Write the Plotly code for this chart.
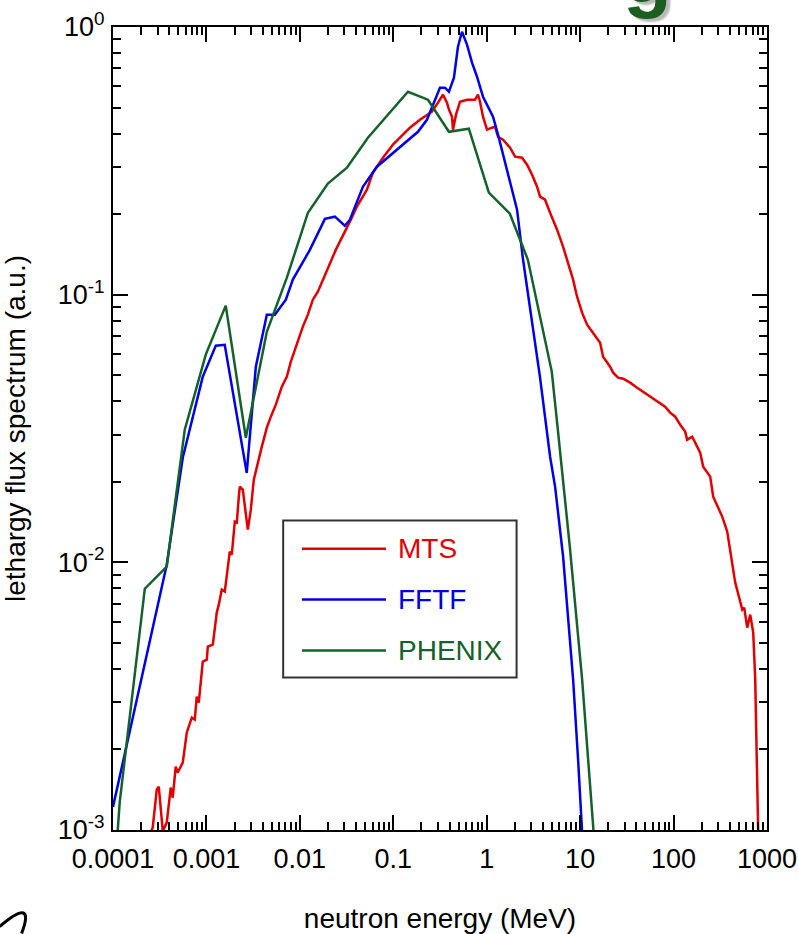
import plotly.graph_objects as go

# ---------------- data ----------------
E_mts = [2.47e-4, 2.66e-4, 2.94e-4, 3.09e-4, 3.41e-4, 3.76e-4, 4.15e-4, 4.36e-4, 4.69e-4, 4.93e-4,
         5.58e-4, 6.16e-4, 6.97e-4, 7.50e-4, 7.88e-4, 8.28e-4, 9.14e-4, 1.009e-3, 1.034e-3, 1.170e-3,
         1.290e-3, 1.356e-3, 1.460e-3, 1.572e-3, 1.778e-3, 1.868e-3, 2.012e-3, 2.114e-3, 2.221e-3, 2.277e-3,
         2.451e-3, 2.773e-3, 2.985e-3, 3.214e-3, 3.916e-3, 4.43e-3, 4.89e-3, 5.53e-3, 6.41e-3, 7.26e-3,
         8.01e-3, 9.75e-3, 0.01077, 0.01218, 0.01378, 0.01558, 0.01763, 0.02429, 0.0343, 0.04078,
         0.05219, 0.06051, 0.07745, 0.0991, 0.1268, 0.1508, 0.1929, 0.2594, 0.3009, 0.3402,
         0.3755, 0.3946, 0.4249, 0.4355, 0.469, 0.5176, 0.6152, 0.7495, 0.8069, 0.8475,
         0.9128, 1.0074, 1.14, 1.227, 1.321, 1.495, 1.777, 2.011, 2.389, 2.702,
         3.058, 3.458, 3.724, 4.212, 4.766, 5.664, 6.566, 7.247, 8.405, 9.275,
         10.49, 11.87, 13.76, 16.36, 17.61, 20.93, 22.54, 25.5, 28.84, 34.28,
         40.74, 47.24, 56.14, 68.4, 81.25, 91.94, 104.0, 117.7, 133.1, 139.8,
         158.2, 178.9, 192.6, 207.5, 246.6, 265.6, 331.6, 375.1, 424.3, 456.9,
         516.9, 543.0, 570.4, 614.1, 661.5, 712.2, 748.2, 805.6]
F_mts = [9.6e-4, 1.02e-3, 1.416e-3, 1.452e-3, 9.9e-4, 1.066e-3, 1.44e-3, 1.32e-3, 1.725e-3, 1.64e-3,
         1.786e-3, 2.31e-3, 2.63e-3, 2.585e-3, 3.15e-3, 2.99e-3, 4.26e-3, 4.33e-3, 4.84e-3, 4.93e-3,
         6.49e-3, 6.95e-3, 7.91e-3, 7.77e-3, 0.01096, 0.01068, 0.01419, 0.01407, 0.01759, 0.01918,
         0.01869, 0.01325, 0.01573, 0.02037, 0.02705, 0.03185, 0.03501, 0.03882, 0.04532, 0.04939,
         0.0562, 0.06911, 0.07597, 0.08421, 0.09579, 0.1026, 0.1138, 0.1473, 0.1874, 0.2132,
         0.2467, 0.2856, 0.3249, 0.3634, 0.396, 0.4205, 0.4505, 0.4827, 0.5215, 0.5587,
         0.5215, 0.491, 0.4624, 0.4134, 0.4704, 0.526, 0.5351, 0.5351, 0.5587, 0.526,
         0.4624, 0.4134, 0.4205, 0.4241, 0.3892, 0.3793, 0.354, 0.3277, 0.3249, 0.3058,
         0.2807, 0.2531, 0.2323, 0.2264, 0.2024, 0.1749, 0.1511, 0.1351, 0.1138, 0.09829,
         0.08564, 0.07724, 0.07211, 0.06616, 0.05866, 0.05383, 0.05112, 0.04897, 0.04855, 0.04691,
         0.04493, 0.04341, 0.04159, 0.03984, 0.03816, 0.03624, 0.03501, 0.03268, 0.03078, 0.02872,
         0.02947, 0.02705, 0.0257, 0.02278, 0.0209, 0.01759, 0.01482, 0.01302, 9.97e-3, 8.4e-3,
         7.13e-3, 6.66e-3, 6.77e-3, 5.70e-3, 6.38e-3, 5.46e-3, 3.645e-3, 9.6e-4]

E_fftf = [1.0e-4, 3.76e-4, 5.58e-4, 9.14e-4, 1.26e-3, 1.57e-3, 2.70e-3, 3.38e-3, 4.43e-3, 5.40e-3,
          7.08e-3, 8.41e-3, 0.0128, 0.01854, 0.0237, 0.0303, 0.0343, 0.0473, 0.0668, 0.1178,
          0.1836, 0.229, 0.2727, 0.316, 0.357, 0.394, 0.446, 0.492, 0.5438, 0.615,
          0.696, 0.787, 0.9126, 1.168, 1.321, 1.650, 2.112, 2.449, 3.724, 4.768,
          5.393, 6.57, 7.25, 8.41, 9.51, 10.5]
F_fftf = [1.22e-3, 9.8e-3, 0.0246, 0.0494, 0.0645, 0.065, 0.0216, 0.0538, 0.0842, 0.0842,
          0.0958, 0.1138, 0.147, 0.192, 0.1956, 0.181, 0.1906, 0.253, 0.3007, 0.357,
          0.406, 0.450, 0.5215, 0.5933, 0.5933, 0.5733, 0.6467, 0.844, 0.960, 0.859,
          0.7356, 0.652, 0.549, 0.4624, 0.396, 0.293, 0.2077, 0.135, 0.0490, 0.0248,
          0.01918, 0.0105, 0.00707, 0.00365, 0.00183, 0.00098]

E_phenix = [1.10e-4, 1.18e-4, 2.19e-4, 3.76e-4, 5.86e-4, 9.84e-4, 1.61e-3, 2.64e-3, 4.43e-3, 7.26e-3,
            0.0122, 0.01995, 0.0319, 0.0535, 0.1435, 0.235, 0.394, 0.6435, 1.054, 1.769,
            2.758, 4.97, 5.77, 7.75, 10.5, 12.8, 14.1]
F_phenix = [9.0e-4, 1.27e-3, 7.97e-3, 9.64e-3, 0.0313, 0.0597, 0.0910, 0.0292, 0.0727, 0.1157,
            0.2024, 0.260, 0.298, 0.386, 0.573, 0.535, 0.406, 0.417, 0.2404, 0.2007,
            0.135, 0.0516, 0.0313, 0.01145, 0.00365, 0.00154, 9.3e-4]

series_names = ["MTS", "FFTF", "PHENIX"]
series_colors = ["#e10000", "#0000e6", "#14622a"]

x_tickvals = [1e-4, 1e-3, 1e-2, 1e-1, 1, 10, 100, 1000]
x_ticktext = ["0.0001", "0.001", "0.01", "0.1", "1", "10", "100", "1000"]
y_tickvals = [1e-3, 1e-2, 1e-1, 1]
y_ticktext = ["10<sup>-3</sup>", "10<sup>-2</sup>", "10<sup>-1</sup>", "10<sup>0</sup>"]

x_title = "neutron energy (MeV)"
y_title = "lethargy flux spectrum (a.u.)"

# ---------------- figure ----------------
FONT = "Liberation Sans, Arial, Helvetica, sans-serif"

minor_x = [d * 10.0 ** k for k in range(-4, 3) for d in range(2, 10)]
minor_y = [d * 10.0 ** k for k in range(-3, 0) for d in range(2, 10)]

fig = go.Figure()
for xs, ys, name, col in [(E_mts, F_mts, series_names[0], series_colors[0]),
                          (E_fftf, F_fftf, series_names[1], series_colors[1]),
                          (E_phenix, F_phenix, series_names[2], series_colors[2])]:
    fig.add_trace(go.Scatter(x=xs, y=ys, mode="lines", name=name,
                             line=dict(color=col, width=2.5), showlegend=False))

axis_common = dict(
    type="log", showline=True, linecolor="black", linewidth=2, mirror="ticks",
    ticks="inside", ticklen=15, tickwidth=2, tickcolor="black",
    showgrid=False, zeroline=False, tickmode="array",
)

fig.update_xaxes(
    range=[-4, 3], tickvals=x_tickvals, ticktext=x_ticktext,
    tickfont=dict(family=FONT, size=27, color="black"),
    minor=dict(ticks="inside", ticklen=8, tickwidth=1.5, tickcolor="black",
               tickmode="array", tickvals=minor_x, showgrid=False),
    title=dict(text=x_title, font=dict(family=FONT, size=28, color="black"), standoff=40),
    ticklabelstandoff=4,
    automargin=False,
    **axis_common,
)
fig.update_yaxes(
    range=[-3, 0], tickvals=y_tickvals, ticktext=y_ticktext,
    tickfont=dict(family=FONT, size=27, color="black"),
    minor=dict(ticks="inside", ticklen=8, tickwidth=1.5, tickcolor="black",
               tickmode="array", tickvals=minor_y, showgrid=False),
    title=dict(text=y_title, font=dict(family=FONT, size=28, color="black"), standoff=30),
    ticklabelstandoff=1,
    automargin=False,
    **axis_common,
)

# custom legend (box, long line samples, coloured labels)
legend_rows_y = [0.3504, 0.2869, 0.2234]
shapes = [dict(type="rect", xref="paper", yref="paper", x0=0.2602, x1=0.6171, y0=0.1898, y1=0.3853,
               line=dict(color="#333333", width=2), fillcolor="white", layer="above")]
annotations = []
for yy, name, col in zip(legend_rows_y, series_names, series_colors):
    shapes.append(dict(type="line", xref="paper", yref="paper", x0=0.2888, x1=0.4174, y0=yy, y1=yy,
                       line=dict(color=col, width=2.5), layer="above"))
    annotations.append(dict(xref="paper", yref="paper", x=0.4327, y=yy, xanchor="left", yanchor="middle",
                            text=name, showarrow=False,
                            font=dict(family=FONT, size=28, color=col)))

# clipped decorative letter at the very top and pen stroke at bottom-left (as in the source image)
annotations.append(dict(xref="paper", yref="paper", x=0.8168, y=1.008, xanchor="center", yanchor="bottom",
                        text="<b>g</b>", showarrow=False,
                        font=dict(family=FONT, size=80, color="#1b5e20", shadow="4px 3px 2px #b8b8b8")))
shapes.append(dict(type="path", xref="paper", yref="paper",
                   path="M -0.1734,-0.1203 Q -0.118,-0.082 -0.1398,-0.129",
                   line=dict(color="black", width=3)))

fig.update_layout(
    width=798, height=934,
    margin=dict(l=113, r=31, t=27, b=104),
    paper_bgcolor="white", plot_bgcolor="white",
    font=dict(family=FONT, color="black"),
    shapes=shapes, annotations=annotations,
    showlegend=False,
)

fig.write_html("out.html")
